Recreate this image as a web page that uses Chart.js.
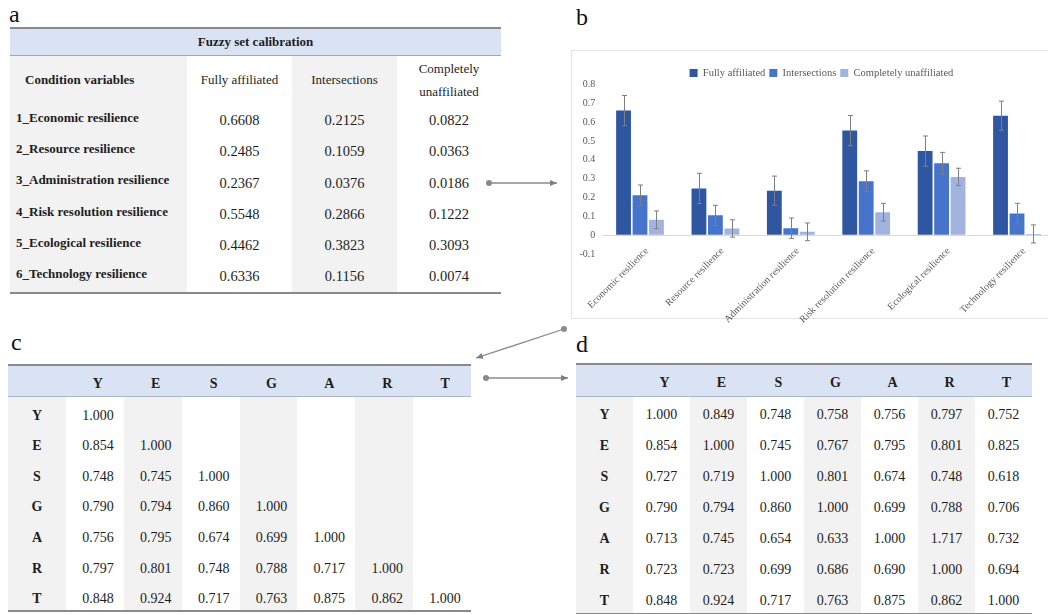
<!DOCTYPE html>
<html>
<head>
<meta charset="utf-8">
<script src="https://cdn.jsdelivr.net/npm/chart.js@4.4.0/dist/chart.umd.min.js"></script>
<style>
  html,body{margin:0;padding:0;background:#fff;}
  body{position:relative;width:1048px;height:614px;overflow:hidden;font-family:'Liberation Serif','Times New Roman',serif;color:#1e1e1e;}
  .plabel{position:absolute;font-size:24px;line-height:24px;color:#111;}
  table{position:absolute;border-collapse:collapse;table-layout:fixed;}
  td{padding:0;text-align:center;vertical-align:middle;white-space:nowrap;}
  .g{background:#f2f2f2;}
  .hd td{background:#dae3f3;font-weight:bold;}
  .tb{border-top:2px solid #8a8a8a;}
  .bb{border-bottom:2px solid #8a8a8a;}
  #ta td{font-size:14.5px;}
  #ta .lab{text-align:left;font-weight:bold;font-size:13px;padding-left:6px;padding-bottom:6px;}
  #ta .colh td{font-size:13px;}
  #tc td,#td td{font-size:14px;}
  #tc td{padding-top:8px;}
  #tc td.v{padding-left:6px;}
  #tc .hd td{padding-top:7px;padding-left:6px;}
  #td td{padding-top:6px;}
  #td .hd td{padding-top:6px;padding-left:6px;}
  #bbox{position:absolute;left:571px;top:50px;width:500px;height:267px;border:1px solid #e4e4e4;background:#fff;}
  #bwrap{position:absolute;left:571px;top:51px;width:495px;height:290px;}
  svg{position:absolute;left:0;top:0;}
</style>
</head>
<body>
<div class="plabel" style="left:9px;top:2px">a</div>
<div class="plabel" style="left:576px;top:5px">b</div>
<div class="plabel" style="left:11px;top:330px">c</div>
<div class="plabel" style="left:576px;top:332px">d</div>

<table id="ta" style="left:10px;top:27px;width:491px"></table>
<div id="bbox"></div>
<div id="bwrap"><canvas id="chartB"></canvas></div>
<table id="tc" style="left:8px;top:364px;width:463px"></table>
<table id="td" style="left:576px;top:363px;width:456px"></table>

<svg width="1048" height="614">
  <defs>
    <marker id="ah" markerWidth="8" markerHeight="8" refX="7" refY="4" orient="auto" markerUnits="userSpaceOnUse">
      <path d="M0,1 L7,4 L0,7 Z" fill="#7f7f7f"/>
    </marker>
  </defs>
  <g stroke="#8a8a8a" stroke-width="1.3" fill="none">
    <line x1="489" y1="183" x2="557" y2="183" marker-end="url(#ah)"/>
    <line x1="564" y1="329" x2="476" y2="358" marker-end="url(#ah)"/>
    <line x1="486" y1="378" x2="568" y2="378" marker-end="url(#ah)"/>
  </g>
  <g fill="#8a8a8a">
    <circle cx="489" cy="183" r="3"/>
    <circle cx="564" cy="329" r="3"/>
    <circle cx="486" cy="378" r="3"/>
  </g>
</svg>

<script>
/* ── Data ── */
const calibVars=['1_Economic resilience','2_Resource resilience','3_Administration resilience','4_Risk resolution resilience','5_Ecological resilience','6_Technology resilience'];
const categories=['Economic resilience','Resource resilience','Administration resilience','Risk resolution resilience','Ecological resilience','Technology resilience'];
const seriesNames=['Fully affiliated','Intersections','Completely unaffiliated'];
const fully=[0.6608,0.2485,0.2367,0.5548,0.4462,0.6336];
const inter=[0.2125,0.1059,0.0376,0.2866,0.3823,0.1156];
const unaff=[0.0822,0.0363,0.0186,0.1222,0.3093,0.0074];
const errFully=[0.080,0.080,0.077,0.080,0.080,0.077];
const errInter=[0.054,0.053,0.054,0.055,0.057,0.054];
const errUnaff=[0.047,0.046,0.047,0.047,0.046,0.048];
const yTicks=[-0.1,0,0.1,0.2,0.3,0.4,0.5,0.6,0.7,0.8];

const vars=['Y','E','S','G','A','R','T'];
const corrC=[
  ['1.000'],
  ['0.854','1.000'],
  ['0.748','0.745','1.000'],
  ['0.790','0.794','0.860','1.000'],
  ['0.756','0.795','0.674','0.699','1.000'],
  ['0.797','0.801','0.748','0.788','0.717','1.000'],
  ['0.848','0.924','0.717','0.763','0.875','0.862','1.000']
];
const corrD=[
  ['1.000','0.849','0.748','0.758','0.756','0.797','0.752'],
  ['0.854','1.000','0.745','0.767','0.795','0.801','0.825'],
  ['0.727','0.719','1.000','0.801','0.674','0.748','0.618'],
  ['0.790','0.794','0.860','1.000','0.699','0.788','0.706'],
  ['0.713','0.745','0.654','0.633','1.000','1.717','0.732'],
  ['0.723','0.723','0.699','0.686','0.690','1.000','0.694'],
  ['0.848','0.924','0.717','0.763','0.875','0.862','1.000']
];

/* ── Table a ── */
(function(){
  const t=document.getElementById('ta');
  let h='<colgroup><col style="width:177px"><col style="width:105px"><col style="width:105px"><col style="width:104px"></colgroup>';
  h+='<tr class="hd" style="height:27px"><td colspan="4" class="tb" style="font-size:13px;border-bottom:1px solid #a6a6a6">Fuzzy set calibration</td></tr>';
  h+='<tr class="colh" style="height:50px"><td class="g" style="text-align:left;padding-left:15px;font-weight:bold">Condition variables</td>'+
     '<td>Fully affiliated</td><td class="g">Intersections</td><td style="line-height:23px;white-space:normal">Completely<br>unaffiliated</td></tr>';
  calibVars.forEach((v,i)=>{
    const last=i===calibVars.length-1?' bb':'';
    h+=`<tr style="height:31.33px"><td class="g lab${last}">${v}</td>`+
       `<td class="${last}">${fully[i].toFixed(4)}</td>`+
       `<td class="g${last}">${inter[i].toFixed(4)}</td>`+
       `<td class="${last}">${unaff[i].toFixed(4)}</td></tr>`;
  });
  t.innerHTML=h;
})();

/* ── Tables c & d ── */
function corrTable(id,rows,firstW,colW,headH,rowH){
  const t=document.getElementById(id);
  let h='<colgroup><col style="width:'+firstW+'px">'+vars.map(()=>'<col style="width:'+colW+'px">').join('')+'</colgroup>';
  h+=`<tr class="hd" style="height:${headH}px"><td class="tb" style="border-bottom:1px solid #a9b6cc"></td>`+
     vars.map(v=>`<td class="tb" style="border-bottom:1px solid #a9b6cc">${v}</td>`).join('')+'</tr>';
  rows.forEach((r,i)=>{
    const last=i===rows.length-1?' bb':'';
    h+=`<tr style="height:${rowH}px"><td class="g${last}" style="font-weight:bold">${vars[i]}</td>`;
    vars.forEach((_,j)=>{
      const cls='v'+(j%2===1?' g':'')+last;
      h+=`<td class="${cls}">${r[j]||''}</td>`;
    });
    h+='</tr>';
  });
  t.innerHTML=h;
}
corrTable('tc',corrC,58,57.86,31,30.7);
corrTable('td',corrD,57,57,32,31.1);

/* ── Chart b ── */
const errs=[errFully,errInter,errUnaff];
const errorBars={
  id:'errorBars',
  afterDatasetsDraw(chart){
    const ctx=chart.ctx,y=chart.scales.y;
    ctx.save();
    ctx.strokeStyle='#7f7f7f';
    ctx.lineWidth=1;
    chart.data.datasets.forEach((ds,i)=>{
      chart.getDatasetMeta(i).data.forEach((bar,j)=>{
        const v=ds.data[j],e=errs[i][j];
        const x=Math.round(bar.x)+0.5;
        const y1=y.getPixelForValue(v+e),y2=y.getPixelForValue(v-e);
        ctx.beginPath();
        ctx.moveTo(x,y1);ctx.lineTo(x,y2);
        ctx.moveTo(x-2.5,y1);ctx.lineTo(x+2.5,y1);
        ctx.moveTo(x-2.5,y2);ctx.lineTo(x+2.5,y2);
        ctx.stroke();
      });
    });
    ctx.restore();
  }
};
/* tighten the legend block and nudge it right, like the excel original */
const legendTweak={
  id:'legendTweak',
  beforeLayout(chart){
    const lg=chart.legend;
    if(lg&&!lg._trimmed){
      const fit=lg.fit;
      lg.fit=function(){fit.call(this);this.height-=4;};
      lg._trimmed=true;
    }
  },
  afterLayout(chart){
    const lg=chart.legend;
    if(lg){lg.left+=8.6;lg.right+=8.6;}
  }
};

const serif="'Liberation Serif','Times New Roman',serif";
new Chart(document.getElementById('chartB'),{
  type:'bar',
  data:{
    labels:categories,
    datasets:[
      {label:seriesNames[0],data:fully,backgroundColor:'#2f56a0'},
      {label:seriesNames[1],data:inter,backgroundColor:'#4674cb'},
      {label:seriesNames[2],data:unaff,backgroundColor:'#a2b3e0'}
    ]
  },
  options:{
    responsive:true,maintainAspectRatio:false,animation:false,
    layout:{padding:{left:0,right:11.3,top:12.8,bottom:86.8}},
    datasets:{bar:{categoryPercentage:0.655,barPercentage:0.9}},
    plugins:{
      legend:{
        position:'top',
        labels:{color:'#595959',font:{family:serif,size:10.5},boxWidth:8,boxHeight:8,padding:4}
      },
      tooltip:{enabled:false}
    },
    scales:{
      x:{
        position:{y:yTicks[0]},
        grid:{display:false},
        border:{display:false},
        ticks:{color:'#595959',font:{family:serif,size:10},maxRotation:45,minRotation:45,padding:-17,labelOffset:7}
      },
      y:{
        min:yTicks[0],max:yTicks[yTicks.length-1],
        border:{display:false},
        grid:{drawTicks:false,color:c=>Math.abs(c.tick.value)<1e-9?'#d9d9d9':'transparent'},
        ticks:{stepSize:0.1,color:'#595959',font:{family:serif,size:10},padding:7},
        afterFit(s){s.width=31.3;}
      }
    }
  },
  plugins:[errorBars,legendTweak]
});
</script>
</body>
</html>
